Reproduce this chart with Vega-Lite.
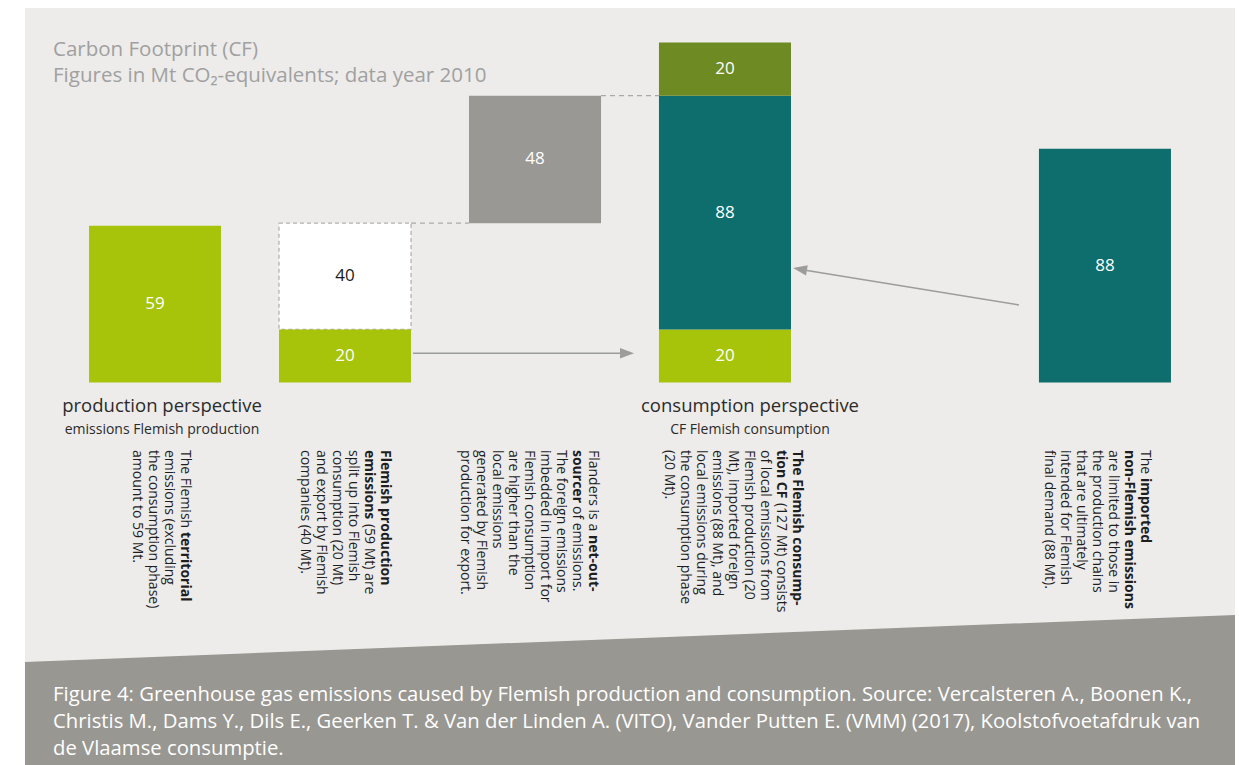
{
  "$schema": "https://vega.github.io/schema/vega-lite/v6.json",
  "width": 1239,
  "height": 765,
  "autosize": {"type": "fit", "contains": "padding"},
  "padding": {"left": 25, "top": 8, "right": 4, "bottom": 0},
  "background": "#ffffff",
  "config": {"view": {"fill": "#edecea", "stroke": null}, "font": "Open Sans"},
  "datasets": {
    "segments": [
      {"col": "production", "seg": "territorial", "start": 0, "end": 59, "label": "59"},
      {"col": "split", "seg": "domestic", "start": 0, "end": 20, "label": "20"},
      {"col": "split", "seg": "export", "start": 20, "end": 60, "label": "40"},
      {"col": "netimport", "seg": "net import", "start": 60, "end": 108, "label": "48"},
      {"col": "consumption", "seg": "domestic", "start": 0, "end": 20, "label": "20"},
      {"col": "consumption", "seg": "foreign", "start": 20, "end": 108, "label": "88"},
      {"col": "consumption", "seg": "consumption phase", "start": 108, "end": 128, "label": "20"},
      {"col": "imported", "seg": "foreign", "start": 0, "end": 88, "label": "88"}
    ],
    "notes": [
      {"col": "production", "piece": 1, "text": "The Flemish\nemissions (excluding\nthe consumption phase)\namount to 59 Mt."},
      {"col": "production", "piece": 2, "text": "territorial"},
      {"col": "split", "piece": 1, "text": "Flemish production\nemissions"},
      {"col": "split", "piece": 2, "text": "(59 Mt) are"},
      {"col": "split", "piece": 3, "text": "split up into Flemish\nconsumption (20 Mt)\nand export by Flemish\ncompanies (40 Mt)."},
      {"col": "netimport", "piece": 1, "text": "Flanders is a"},
      {"col": "netimport", "piece": 2, "text": "net-out-"},
      {"col": "netimport", "piece": 3, "text": "sourcer"},
      {"col": "netimport", "piece": 4, "text": "of emissions."},
      {"col": "netimport", "piece": 5, "text": "The foreign emissions\nimbedded in import for\nFlemish consumption\nare higher than the\nlocal emissions\ngenerated by Flemish\nproduction for export."},
      {"col": "consumption", "piece": 1, "text": "The Flemish consump-\ntion CF"},
      {"col": "consumption", "piece": 2, "text": "(127 Mt) consists"},
      {"col": "consumption", "piece": 3, "text": "of local emissions from\nFlemish production (20\nMt), imported foreign\nemissions (88 Mt), and\nlocal emissions during\nthe consumption phase\n(20 Mt)."},
      {"col": "imported", "piece": 1, "text": "The"},
      {"col": "imported", "piece": 2, "text": "imported"},
      {"col": "imported", "piece": 3, "text": "non-Flemish emissions"},
      {"col": "imported", "piece": 4, "text": "are limited to those in\nthe production chains\nthat are ultimately\nintended for Flemish\nfinal demand (88 Mt)."}
    ],
    "perspectives": [
      {"col": "production", "heading": "production perspective", "sub": "emissions Flemish production"},
      {"col": "consumption", "heading": "consumption perspective", "sub": "CF Flemish consumption"}
    ]
  },
  "resolve": {"scale": {"x": "independent"}},
  "layer": [
    {
      "data": {"values": [{"across": 0, "edge": -105.2}, {"across": 1, "edge": -87.5}]},
      "mark": {"type": "area", "color": "#999792", "opacity": 1},
      "encoding": {
        "x": {"field": "across", "type": "quantitative", "scale": {"domain": [0, 1], "nice": false, "zero": false}, "axis": null},
        "y": {"field": "edge", "type": "quantitative", "scale": {"domain": [-144, 141], "nice": false, "zero": false}, "axis": null},
        "y2": {"datum": -144}
      }
    },
    {
      "layer": [
        {
          "data": {"values": [{"from": "split", "to": "netimport", "level": 60}, {"from": "netimport", "to": "consumption", "level": 108}]},
          "mark": {"type": "rule", "color": "#a9a9a9", "strokeDash": [5, 4], "strokeWidth": 1.2, "xOffset": 66, "x2Offset": -66},
          "encoding": {
            "x": {"field": "from", "type": "nominal", "scale": {"domain": ["production", "split", "netimport", "consumption", "gap", "imported"], "paddingInner": 0.305, "paddingOuter": 0.337}, "axis": null},
            "x2": {"field": "to"},
            "y": {"field": "level", "type": "quantitative", "axis": null}
          }
        },
        {
          "data": {"values": [{"from": "split", "to": "consumption", "level": 11}]},
          "mark": {"type": "rule", "color": "#9c9c9c", "strokeWidth": 1.5, "xOffset": 68, "x2Offset": -105},
          "encoding": {
            "x": {"field": "from", "type": "nominal", "axis": null},
            "x2": {"field": "to"},
            "y": {"field": "level", "type": "quantitative", "axis": null}
          }
        },
        {
          "data": {"values": [{"from": "imported", "to": "consumption", "from_level": 29.2, "to_level": 42.2}]},
          "mark": {"type": "rule", "color": "#9c9c9c", "strokeWidth": 1.5, "xOffset": -86, "x2Offset": 82},
          "encoding": {
            "x": {"field": "from", "type": "nominal", "axis": null},
            "x2": {"field": "to"},
            "y": {"field": "from_level", "type": "quantitative", "axis": null},
            "y2": {"field": "to_level"}
          }
        },
        {
          "data": {"values": [{"at": "consumption", "level": 11}]},
          "mark": {"type": "point", "shape": "M1,0L-1,-0.75L-1,0.75Z", "size": 196, "filled": true, "color": "#9c9c9c", "opacity": 1, "xOffset": -98},
          "encoding": {
            "x": {"field": "at", "type": "nominal", "axis": null},
            "y": {"field": "level", "type": "quantitative", "axis": null}
          }
        },
        {
          "data": {"values": [{"at": "consumption", "level": 42.65}]},
          "mark": {"type": "point", "shape": "M-1,0L1,-0.75L1,0.75Z", "size": 196, "angle": 9.3, "filled": true, "color": "#9c9c9c", "opacity": 1, "xOffset": 75},
          "encoding": {
            "x": {"field": "at", "type": "nominal", "axis": null},
            "y": {"field": "level", "type": "quantitative", "axis": null}
          }
        },
        {
          "data": {"name": "segments"},
          "transform": [{"filter": "datum.seg === 'export'"}],
          "mark": {"type": "bar", "fill": "#ffffff", "stroke": "#b3b3b3", "strokeDash": [4, 3], "strokeWidth": 1.3},
          "encoding": {
            "x": {"field": "col", "type": "nominal", "axis": null},
            "y": {"field": "start", "type": "quantitative", "axis": null},
            "y2": {"field": "end"}
          }
        },
        {
          "data": {"name": "segments"},
          "transform": [{"filter": "datum.seg !== 'export'"}],
          "mark": {"type": "bar", "opacity": 1},
          "encoding": {
            "x": {"field": "col", "type": "nominal", "axis": null},
            "y": {"field": "start", "type": "quantitative", "axis": null},
            "y2": {"field": "end"},
            "color": {"field": "seg", "type": "nominal", "legend": null,
              "scale": {"domain": ["territorial", "domestic", "net import", "foreign", "consumption phase"],
                        "range": ["#a7c40a", "#a7c40a", "#9a9894", "#0d6e6d", "#6e8a23"]}}
          }
        },
        {
          "data": {"name": "segments"},
          "transform": [
            {"fold": ["start", "end"], "as": ["edge", "bound"]},
            {"aggregate": [{"op": "mean", "field": "bound", "as": "mid"}], "groupby": ["col", "seg", "label"]}
          ],
          "mark": {"type": "text", "fontSize": 17, "baseline": "middle", "align": "center"},
          "encoding": {
            "x": {"field": "col", "type": "nominal", "axis": null},
            "y": {"field": "mid", "type": "quantitative", "axis": null},
            "text": {"field": "label"},
            "color": {"condition": {"test": "datum.seg === 'export'", "value": "#1a1a1a"}, "value": "#ffffff"}
          }
        },
        {
          "data": {"name": "perspectives"},
          "transform": [{"filter": "datum.col === 'production'"}],
          "mark": {"type": "text", "fontSize": 18.5, "color": "#2b2b2b", "baseline": "middle", "align": "center", "dx": 7},
          "encoding": {"x": {"field": "col", "type": "nominal", "axis": null}, "y": {"datum": -8.9}, "text": {"field": "heading"}}
        },
        {
          "data": {"name": "perspectives"},
          "transform": [{"filter": "datum.col === 'consumption'"}],
          "mark": {"type": "text", "fontSize": 18.5, "color": "#2b2b2b", "baseline": "middle", "align": "center", "dx": 25},
          "encoding": {"x": {"field": "col", "type": "nominal", "axis": null}, "y": {"datum": -8.9}, "text": {"field": "heading"}}
        },
        {
          "data": {"name": "perspectives"},
          "transform": [{"filter": "datum.col === 'production'"}],
          "mark": {"type": "text", "fontSize": 14, "color": "#2b2b2b", "baseline": "middle", "align": "center", "dx": 7},
          "encoding": {"x": {"field": "col", "type": "nominal", "axis": null}, "y": {"datum": -17.9}, "text": {"field": "sub"}}
        },
        {
          "data": {"name": "perspectives"},
          "transform": [{"filter": "datum.col === 'consumption'"}],
          "mark": {"type": "text", "fontSize": 14, "color": "#2b2b2b", "baseline": "middle", "align": "center", "dx": 25},
          "encoding": {"x": {"field": "col", "type": "nominal", "axis": null}, "y": {"datum": -17.9}, "text": {"field": "sub"}}
        },
        {
          "data": {"name": "notes"},
          "transform": [{"filter": "datum.col === 'production' && datum.piece === 1"}],
          "mark": {"type": "text", "fontSize": 14, "lineHeight": 16, "lineBreak": "\n", "angle": 90, "align": "left", "baseline": "middle", "color": "#1e1e1e", "dy": -30},
          "encoding": {"x": {"field": "col", "type": "nominal", "axis": null}, "y": {"datum": -25.4}, "text": {"field": "text"}}
        },
        {
          "data": {"name": "notes"},
          "transform": [{"filter": "datum.col === 'production' && datum.piece === 2"}],
          "mark": {"type": "text", "fontSize": 14, "fontWeight": "bold", "lineHeight": 16, "lineBreak": "\n", "angle": 90, "align": "left", "baseline": "middle", "color": "#1e1e1e", "dy": -30, "dx": 82},
          "encoding": {"x": {"field": "col", "type": "nominal", "axis": null}, "y": {"datum": -25.4}, "text": {"field": "text"}}
        },
        {
          "data": {"name": "notes"},
          "transform": [{"filter": "datum.col === 'split' && datum.piece === 1"}],
          "mark": {"type": "text", "fontSize": 14, "fontWeight": "bold", "lineHeight": 16, "lineBreak": "\n", "angle": 90, "align": "left", "baseline": "middle", "color": "#1e1e1e", "dy": -40},
          "encoding": {"x": {"field": "col", "type": "nominal", "axis": null}, "y": {"datum": -25.4}, "text": {"field": "text"}}
        },
        {
          "data": {"name": "notes"},
          "transform": [{"filter": "datum.col === 'split' && datum.piece === 2"}],
          "mark": {"type": "text", "fontSize": 14, "lineHeight": 16, "lineBreak": "\n", "angle": 90, "align": "left", "baseline": "middle", "color": "#1e1e1e", "dy": -24, "dx": 74},
          "encoding": {"x": {"field": "col", "type": "nominal", "axis": null}, "y": {"datum": -25.4}, "text": {"field": "text"}}
        },
        {
          "data": {"name": "notes"},
          "transform": [{"filter": "datum.col === 'split' && datum.piece === 3"}],
          "mark": {"type": "text", "fontSize": 14, "lineHeight": 16, "lineBreak": "\n", "angle": 90, "align": "left", "baseline": "middle", "color": "#1e1e1e", "dy": -8},
          "encoding": {"x": {"field": "col", "type": "nominal", "axis": null}, "y": {"datum": -25.4}, "text": {"field": "text"}}
        },
        {
          "data": {"name": "notes"},
          "transform": [{"filter": "datum.col === 'netimport' && datum.piece === 1"}],
          "mark": {"type": "text", "fontSize": 14, "lineHeight": 16, "lineBreak": "\n", "angle": 90, "align": "left", "baseline": "middle", "color": "#1e1e1e", "dy": -58},
          "encoding": {"x": {"field": "col", "type": "nominal", "axis": null}, "y": {"datum": -25.4}, "text": {"field": "text"}}
        },
        {
          "data": {"name": "notes"},
          "transform": [{"filter": "datum.col === 'netimport' && datum.piece === 2"}],
          "mark": {"type": "text", "fontSize": 14, "fontWeight": "bold", "lineHeight": 16, "lineBreak": "\n", "angle": 90, "align": "left", "baseline": "middle", "color": "#1e1e1e", "dy": -58, "dx": 85},
          "encoding": {"x": {"field": "col", "type": "nominal", "axis": null}, "y": {"datum": -25.4}, "text": {"field": "text"}}
        },
        {
          "data": {"name": "notes"},
          "transform": [{"filter": "datum.col === 'netimport' && datum.piece === 3"}],
          "mark": {"type": "text", "fontSize": 14, "fontWeight": "bold", "lineHeight": 16, "lineBreak": "\n", "angle": 90, "align": "left", "baseline": "middle", "color": "#1e1e1e", "dy": -42},
          "encoding": {"x": {"field": "col", "type": "nominal", "axis": null}, "y": {"datum": -25.4}, "text": {"field": "text"}}
        },
        {
          "data": {"name": "notes"},
          "transform": [{"filter": "datum.col === 'netimport' && datum.piece === 4"}],
          "mark": {"type": "text", "fontSize": 14, "lineHeight": 16, "lineBreak": "\n", "angle": 90, "align": "left", "baseline": "middle", "color": "#1e1e1e", "dy": -42, "dx": 56},
          "encoding": {"x": {"field": "col", "type": "nominal", "axis": null}, "y": {"datum": -25.4}, "text": {"field": "text"}}
        },
        {
          "data": {"name": "notes"},
          "transform": [{"filter": "datum.col === 'netimport' && datum.piece === 5"}],
          "mark": {"type": "text", "fontSize": 14, "lineHeight": 16, "lineBreak": "\n", "angle": 90, "align": "left", "baseline": "middle", "color": "#1e1e1e", "dy": -26},
          "encoding": {"x": {"field": "col", "type": "nominal", "axis": null}, "y": {"datum": -25.4}, "text": {"field": "text"}}
        },
        {
          "data": {"name": "notes"},
          "transform": [{"filter": "datum.col === 'consumption' && datum.piece === 1"}],
          "mark": {"type": "text", "fontSize": 14, "fontWeight": "bold", "lineHeight": 16, "lineBreak": "\n", "angle": 90, "align": "left", "baseline": "middle", "color": "#1e1e1e", "dy": -72},
          "encoding": {"x": {"field": "col", "type": "nominal", "axis": null}, "y": {"datum": -25.4}, "text": {"field": "text"}}
        },
        {
          "data": {"name": "notes"},
          "transform": [{"filter": "datum.col === 'consumption' && datum.piece === 2"}],
          "mark": {"type": "text", "fontSize": 14, "lineHeight": 16, "lineBreak": "\n", "angle": 90, "align": "left", "baseline": "middle", "color": "#1e1e1e", "dy": -56, "dx": 53},
          "encoding": {"x": {"field": "col", "type": "nominal", "axis": null}, "y": {"datum": -25.4}, "text": {"field": "text"}}
        },
        {
          "data": {"name": "notes"},
          "transform": [{"filter": "datum.col === 'consumption' && datum.piece === 3"}],
          "mark": {"type": "text", "fontSize": 14, "lineHeight": 16, "lineBreak": "\n", "angle": 90, "align": "left", "baseline": "middle", "color": "#1e1e1e", "dy": -40},
          "encoding": {"x": {"field": "col", "type": "nominal", "axis": null}, "y": {"datum": -25.4}, "text": {"field": "text"}}
        },
        {
          "data": {"name": "notes"},
          "transform": [{"filter": "datum.col === 'imported' && datum.piece === 1"}],
          "mark": {"type": "text", "fontSize": 14, "lineHeight": 16, "lineBreak": "\n", "angle": 90, "align": "left", "baseline": "middle", "color": "#1e1e1e", "dy": -40},
          "encoding": {"x": {"field": "col", "type": "nominal", "axis": null}, "y": {"datum": -25.4}, "text": {"field": "text"}}
        },
        {
          "data": {"name": "notes"},
          "transform": [{"filter": "datum.col === 'imported' && datum.piece === 2"}],
          "mark": {"type": "text", "fontSize": 14, "fontWeight": "bold", "lineHeight": 16, "lineBreak": "\n", "angle": 90, "align": "left", "baseline": "middle", "color": "#1e1e1e", "dy": -40, "dx": 28},
          "encoding": {"x": {"field": "col", "type": "nominal", "axis": null}, "y": {"datum": -25.4}, "text": {"field": "text"}}
        },
        {
          "data": {"name": "notes"},
          "transform": [{"filter": "datum.col === 'imported' && datum.piece === 3"}],
          "mark": {"type": "text", "fontSize": 14, "fontWeight": "bold", "lineHeight": 16, "lineBreak": "\n", "angle": 90, "align": "left", "baseline": "middle", "color": "#1e1e1e", "dy": -24},
          "encoding": {"x": {"field": "col", "type": "nominal", "axis": null}, "y": {"datum": -25.4}, "text": {"field": "text"}}
        },
        {
          "data": {"name": "notes"},
          "transform": [{"filter": "datum.col === 'imported' && datum.piece === 4"}],
          "mark": {"type": "text", "fontSize": 14, "lineHeight": 16, "lineBreak": "\n", "angle": 90, "align": "left", "baseline": "middle", "color": "#1e1e1e", "dy": -8},
          "encoding": {"x": {"field": "col", "type": "nominal", "axis": null}, "y": {"datum": -25.4}, "text": {"field": "text"}}
        },
        {
          "data": {"values": [{"col": "production", "caption": "Carbon Footprint (CF)\nFigures in Mt CO₂-equivalents; data year 2010"}]},
          "mark": {"type": "text", "fontSize": 20.5, "lineHeight": 26, "lineBreak": "\n", "align": "left", "baseline": "top", "color": "#a0a0a0", "dx": -102},
          "encoding": {"x": {"field": "col", "type": "nominal", "axis": null}, "y": {"datum": 129}, "text": {"field": "caption"}}
        },
        {
          "data": {"values": [{"col": "production", "caption": "Figure 4: Greenhouse gas emissions caused by Flemish production and consumption. Source: Vercalsteren A., Boonen K.,\nChristis M., Dams Y., Dils E., Geerken T. & Van der Linden A. (VITO), Vander Putten E. (VMM) (2017), Koolstofvoetafdruk van\nde Vlaamse consumptie."}]},
          "mark": {"type": "text", "fontSize": 20.3, "lineHeight": 27, "lineBreak": "\n", "align": "left", "baseline": "top", "color": "#ffffff", "dx": -102},
          "encoding": {"x": {"field": "col", "type": "nominal", "axis": null}, "y": {"datum": -113.9}, "text": {"field": "caption"}}
        }
      ]
    }
  ]
}
